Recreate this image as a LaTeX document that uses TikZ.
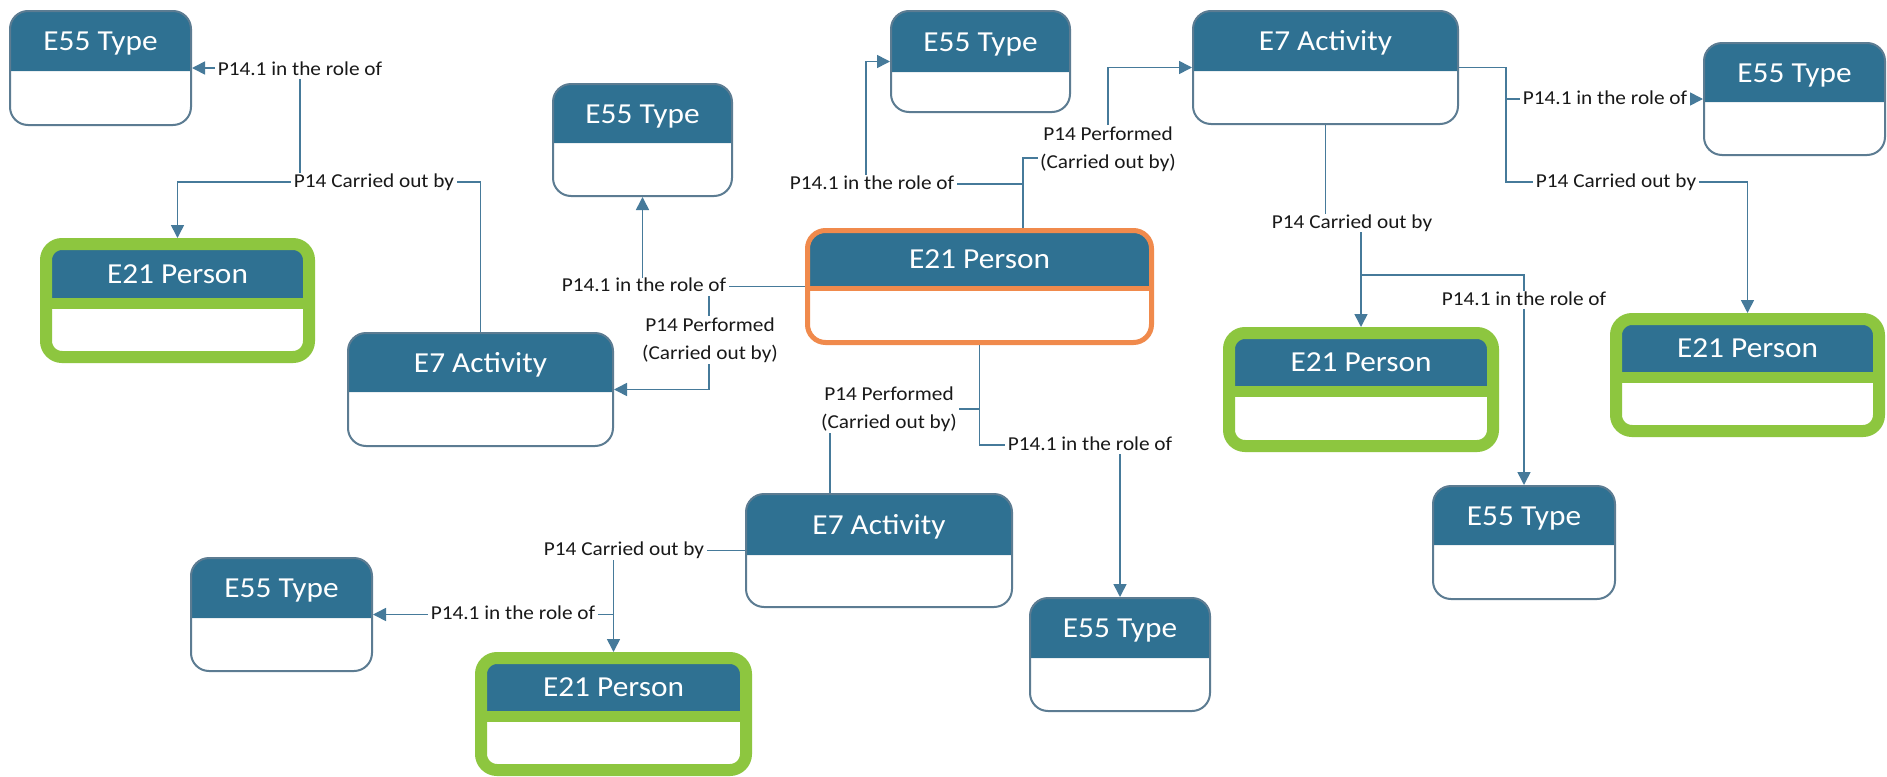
\documentclass[tikz,border=0pt]{standalone}
\usepackage{fontspec}
\setmainfont{Carlito}[FakeStretch=1.08]
\usetikzlibrary{arrows.meta}

\definecolor{headblue}{RGB}{47,113,146}
\definecolor{frameline}{RGB}{92,124,146}
\definecolor{personlime}{RGB}{141,198,63}
\definecolor{focusorange}{RGB}{240,138,76}
\definecolor{wire}{RGB}{70,122,154}

\tikzset{
  wirepath/.style={draw=wire, line width=0.8pt},
  tip/.style={-{Triangle[length=6.5pt,width=6.5pt]}},
  rolelabel/.style={fill=white, inner xsep=1.2pt, inner ysep=0pt, text=black!90,
    font=\fontsize{9.85}{13.75}\selectfont, text height=7pt, text depth=2pt},
  rolelabeltwo/.style={fill=white, inner xsep=1.2pt, inner ysep=1pt, text=black!90,
    font=\fontsize{9.85}{13.75}\selectfont, align=center},
  titletext/.style={text=white, font=\fontsize{14.5}{17}\selectfont, inner sep=0pt, anchor=base},
}

% frame kinds: colour, half stroke (px), separator band (px), stroke width, corner radius
\def\kindplain{\def\kcol{frameline}\def\khalf{1}\def\kband{0}\def\klw{1pt}\def\krad{9pt}}
\def\kindperson{\def\kcol{personlime}\def\khalf{6}\def\kband{11}\def\klw{6pt}\def\krad{8pt}}
\def\kindfocus{\def\kcol{focusorange}\def\khalf{2.5}\def\kband{5}\def\klw{2.5pt}\def\krad{9pt}}

% #1 kind, #2 node name, #3 left, #4 top, #5 right, #6 bottom, #7 header bottom, #8 title
\newcommand{\entitybox}[8]{%
  \csname kind#1\endcsname
  \begin{scope}
    \clip[rounded corners=\krad] ({#3+\khalf},{#4+\khalf}) rectangle ({#5-\khalf},{#6-\khalf});
    \fill[headblue] (#3,#4) rectangle (#5,#7);
    \fill[\kcol] (#3,#7) rectangle (#5,{#7+\kband});
  \end{scope}
  \draw[draw=\kcol, line width=\klw, rounded corners=\krad]
    ({#3+\khalf},{#4+\khalf}) rectangle ({#5-\khalf},{#6-\khalf});
  \node[inner sep=0pt, outer sep=0pt, minimum width={(#5-#3)*0.5pt},
        minimum height={(#6-#4)*0.5pt}] (#2) at ({(#3+#5)/2},{(#4+#6)/2}) {};
  \node[titletext] at ({(#3+#5)/2},{(#4+2*\khalf+#7)/2+9}) {#8};
}

\begin{document}
\begin{tikzpicture}[x=0.5pt,y=-0.5pt]
  \fill[white] (0,0) rectangle (1887,777);
  \useasboundingbox (0,0) rectangle (1887,777);

  % entity boxes
  \entitybox{plain}{typeA}{9}{10}{192}{126}{71}{E55 Type}
  \entitybox{person}{personB}{40}{238}{315}{363}{298}{E21 Person}
  \entitybox{plain}{actC}{347}{332}{614}{447}{392}{E7 Activity}
  \entitybox{plain}{typeD}{552}{83}{733}{197}{143}{E55 Type}
  \entitybox{plain}{typeE}{890}{10}{1071}{113}{72}{E55 Type}
  \entitybox{focus}{personF}{805}{228}{1154}{345}{286}{E21 Person}
  \entitybox{plain}{actG}{1192}{10}{1459}{125}{71}{E7 Activity}
  \entitybox{plain}{typeH}{1703}{42}{1886}{156}{102}{E55 Type}
  \entitybox{person}{personI}{1223}{327}{1499}{452}{386}{E21 Person}
  \entitybox{person}{personJ}{1610}{313}{1885}{437}{372}{E21 Person}
  \entitybox{plain}{typeK}{1432}{485}{1616}{600}{545}{E55 Type}
  \entitybox{plain}{actL}{745}{493}{1013}{608}{555}{E7 Activity}
  \entitybox{plain}{typeM}{1029}{597}{1211}{712}{658}{E55 Type}
  \entitybox{plain}{typeN}{190}{557}{373}{672}{618}{E55 Type}
  \entitybox{person}{personO}{475}{652}{752}{776}{711}{E21 Person}

  % branch points on the connectors
  \coordinate (j1) at (300,182);
  \coordinate (j2) at (709,286.5);
  \coordinate (j3) at (1023,184);
  \coordinate (j4) at (1506,99);
  \coordinate (j5) at (1361,275);
  \coordinate (j6) at (979.5,409);
  \coordinate (j7) at (613.5,614.5);

  % connectors
  \draw[wirepath, tip] (actC.north) -- ++(0,-150) -| (personB.north);
  \draw[wirepath, tip] (j1) |- (typeA.east);

  \draw[wirepath, tip] (personF.west) -| (typeD.south);
  \draw[wirepath, tip] (j2) |- (actC.east);

  \draw[wirepath, tip] ([xshift=21.75pt]personF.north) -- ++(0,-70) -- ++(85,0) |- (actG.west);
  \draw[wirepath, tip] (j3) -- (866,184) |- (typeE.west);

  \draw[wirepath, tip] (actG.east) -- ++(47,0) |- (typeH.west);
  \draw[wirepath, tip] (j4) -- (1506,182) -| (personJ.north);

  \draw[wirepath, tip] (actG.south) -- ++(0,98) -| (personI.north);
  \draw[wirepath, tip] (j5) -| (typeK.north);

  \draw[wirepath, tip] (personF.south) -- ++(0,100) -| (typeM.north);
  \draw[wirepath] (j6) -| ([xshift=-24.5pt]actL.north);

  \draw[wirepath, tip] (actL.west) -| (personO.north);
  \draw[wirepath, tip] (j7) -- (typeN.east);

  % connector labels
  \node[rolelabel] (lab1) at (300,70) {P14.1 in the role of};
  \node[rolelabel] (lab2) at (374,182) {P14 Carried out by};
  \node[rolelabel] (lab3) at (644,286.5) {P14.1 in the role of};
  \node[rolelabeltwo] (lab4) at (710,340) {P14 Performed\\(Carried out by)};
  \node[rolelabel] (lab5) at (872,184) {P14.1 in the role of};
  \node[rolelabeltwo] (lab6) at (1108,149) {P14 Performed\\(Carried out by)};
  \node[rolelabel] (lab7) at (1605,99) {P14.1 in the role of};
  \node[rolelabel] (lab8) at (1616,182) {P14 Carried out by};
  \node[rolelabel] (lab9) at (1352,223) {P14 Carried out by};
  \node[rolelabel] (lab10) at (1524,300) {P14.1 in the role of};
  \node[rolelabel] (lab11) at (1090,445) {P14.1 in the role of};
  \node[rolelabeltwo] (lab12) at (889,409) {P14 Performed\\(Carried out by)};
  \node[rolelabel] (lab13) at (624,550.5) {P14 Carried out by};
  \node[rolelabel] (lab14) at (513,614.5) {P14.1 in the role of};
\end{tikzpicture}
\end{document}
